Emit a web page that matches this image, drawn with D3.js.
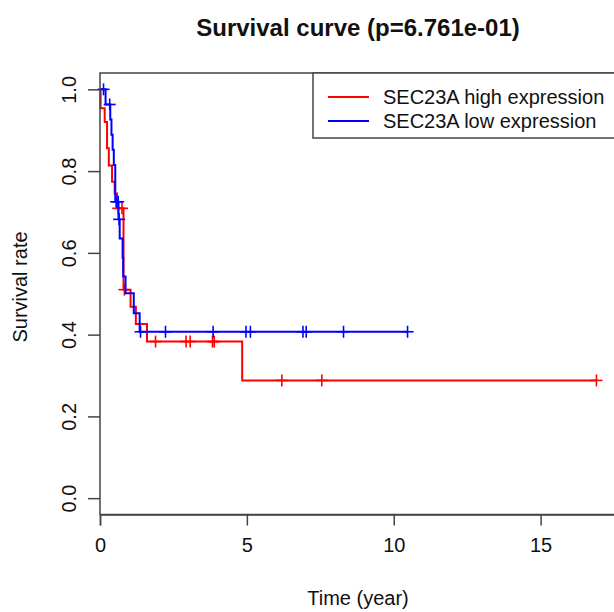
<!DOCTYPE html>
<html><head><meta charset="utf-8">
<script src="https://cdn.jsdelivr.net/npm/d3@7"></script>
<style>body{margin:0;background:#fff}svg{display:block}text{font-family:"Liberation Sans",Arial,sans-serif;fill:#111}</style>
</head><body>
<svg id="c" width="614" height="612"></svg>
<script>
// ---- data ----
const title = "Survival curve (p=6.761e-01)";
const seriesNames = ["SEC23A high expression", "SEC23A low expression"];
const seriesColors = ["#ff0000", "#0000ff"];
// high expression (red)
const highTimes = [0, 0.02, 0.16, 0.24, 0.30, 0.41, 0.50, 0.58, 0.80, 1.04, 1.22, 1.60, 4.84];
const highSurv  = [1.0, 0.954, 0.92, 0.856, 0.814, 0.774, 0.745, 0.709, 0.51, 0.468, 0.426, 0.383, 0.288];
const highCensor = [0.62, 0.75, 0.83, 1.89, 2.93, 3.07, 3.83, 3.89, 6.19, 7.55, 16.9];
// low expression (blue)
const lowTimes = [0, 0.19, 0.35, 0.39, 0.43, 0.47, 0.52, 0.63, 0.67, 0.77, 0.79, 0.87, 1.15, 1.35];
const lowSurv  = [1.0, 0.963, 0.926, 0.889, 0.852, 0.815, 0.725, 0.682, 0.635, 0.588, 0.542, 0.501, 0.452, 0.407];
const lowCensor = [0.12, 0.33, 0.55, 0.62, 0.65, 1.38, 2.23, 3.85, 4.97, 5.12, 6.91, 7.02, 8.29, 10.47];
const xTicks = [0, 5, 10, 15];
const yTicks = [0, 0.2, 0.4, 0.6, 0.8, 1.0];
const xLabel = "Time (year)", yLabel = "Survival rate";

// ---- layout ----
const svg = d3.select("#c");
const x = d3.scaleLinear().domain([0, 17.6]).range([100, 617]);
const y = d3.scaleLinear().domain([-0.04, 1.04]).range([514.5, 73]);
const axisCol = "#444";

function stepPoints(times, surv, censor) {
  const end = Math.max(times[times.length - 1], d3.max(censor));
  const pts = times.map((t, i) => [t, surv[i]]);
  pts.push([end, surv[surv.length - 1]]);
  return pts;
}
function survAt(times, surv, t) {
  let s = surv[0];
  for (let i = 0; i < times.length; i++) if (times[i] <= t) s = surv[i];
  return s;
}

const series = [
  {times: highTimes, surv: highSurv, censor: highCensor, color: seriesColors[0]},
  {times: lowTimes, surv: lowSurv, censor: lowCensor, color: seriesColors[1]}
];
const line = d3.line().x(d => x(d[0])).y(d => y(d[1])).curve(d3.curveStepAfter);

// draw low first so red/blue overlap similar
[series[0], series[1]].forEach(s => {
  svg.append("path").attr("d", line(stepPoints(s.times, s.surv, s.censor)))
    .attr("fill", "none").attr("stroke", s.color).attr("stroke-width", 2);
  const g = svg.append("g").attr("stroke", s.color).attr("stroke-width", 1.6);
  s.censor.forEach(t => {
    const cx = x(t), cy = y(survAt(s.times, s.surv, t));
    g.append("line").attr("x1", cx - 6).attr("x2", cx + 6).attr("y1", cy).attr("y2", cy);
    g.append("line").attr("x1", cx).attr("x2", cx).attr("y1", cy - 6).attr("y2", cy + 6);
  });
});

// box
svg.append("rect").attr("x", 100).attr("y", 73).attr("width", 517).attr("height", 441.5)
  .attr("fill", "none").attr("stroke", axisCol).attr("stroke-width", 1.5);

// x axis
const xa = svg.append("g").attr("transform", "translate(0,514.5)")
  .call(d3.axisBottom(x).tickValues(xTicks).tickSize(11).tickPadding(12).tickFormat(d3.format("d")));
xa.select(".domain").attr("stroke", axisCol).attr("stroke-width", 1.5);
xa.selectAll(".tick line").attr("stroke", axisCol).attr("stroke-width", 1.5);
xa.selectAll("text").attr("font-size", 20).attr("font-family", "Liberation Sans, Arial").attr("fill", "#111");

// y axis (ticks at box edge, rotated labels)
const ya = svg.append("g").attr("transform", "translate(100,0)")
  .call(d3.axisLeft(y).tickValues(yTicks).tickSize(12).tickFormat(d3.format(".1f")));
ya.select(".domain").remove();
ya.selectAll(".tick line").attr("stroke", axisCol).attr("stroke-width", 1.5);
ya.selectAll(".tick text").attr("font-size", 20).attr("font-family", "Liberation Sans, Arial").attr("fill", "#111")
  .attr("x", null).attr("dy", null).attr("text-anchor", "middle")
  .attr("transform", "translate(-31,0) rotate(-90)").attr("dy", "0.35em");

// titles
svg.append("text").attr("x", 358).attr("y", 36).attr("text-anchor", "middle")
  .attr("font-size", 24).attr("font-weight", "bold").text(title);
svg.append("text").attr("x", 358).attr("y", 605).attr("text-anchor", "middle")
  .attr("font-size", 20).text(xLabel);
svg.append("text").attr("transform", "translate(20,287) rotate(-90)").attr("text-anchor", "middle")
  .attr("dy", "0.35em").attr("font-size", 20).text(yLabel);

// legend
const lg = svg.append("g");
lg.append("rect").attr("x", 313).attr("y", 73).attr("width", 320).attr("height", 65)
  .attr("fill", "#fff").attr("stroke", axisCol).attr("stroke-width", 1.5);
seriesNames.forEach((n, i) => {
  const ly = 97 + i * 24;
  lg.append("line").attr("x1", 328).attr("x2", 369).attr("y1", ly).attr("y2", ly)
    .attr("stroke", seriesColors[i]).attr("stroke-width", 2);
  lg.append("text").attr("x", 383).attr("y", ly).attr("dy", "0.35em").attr("font-size", 20).text(n);
});
</script>
</body></html>
